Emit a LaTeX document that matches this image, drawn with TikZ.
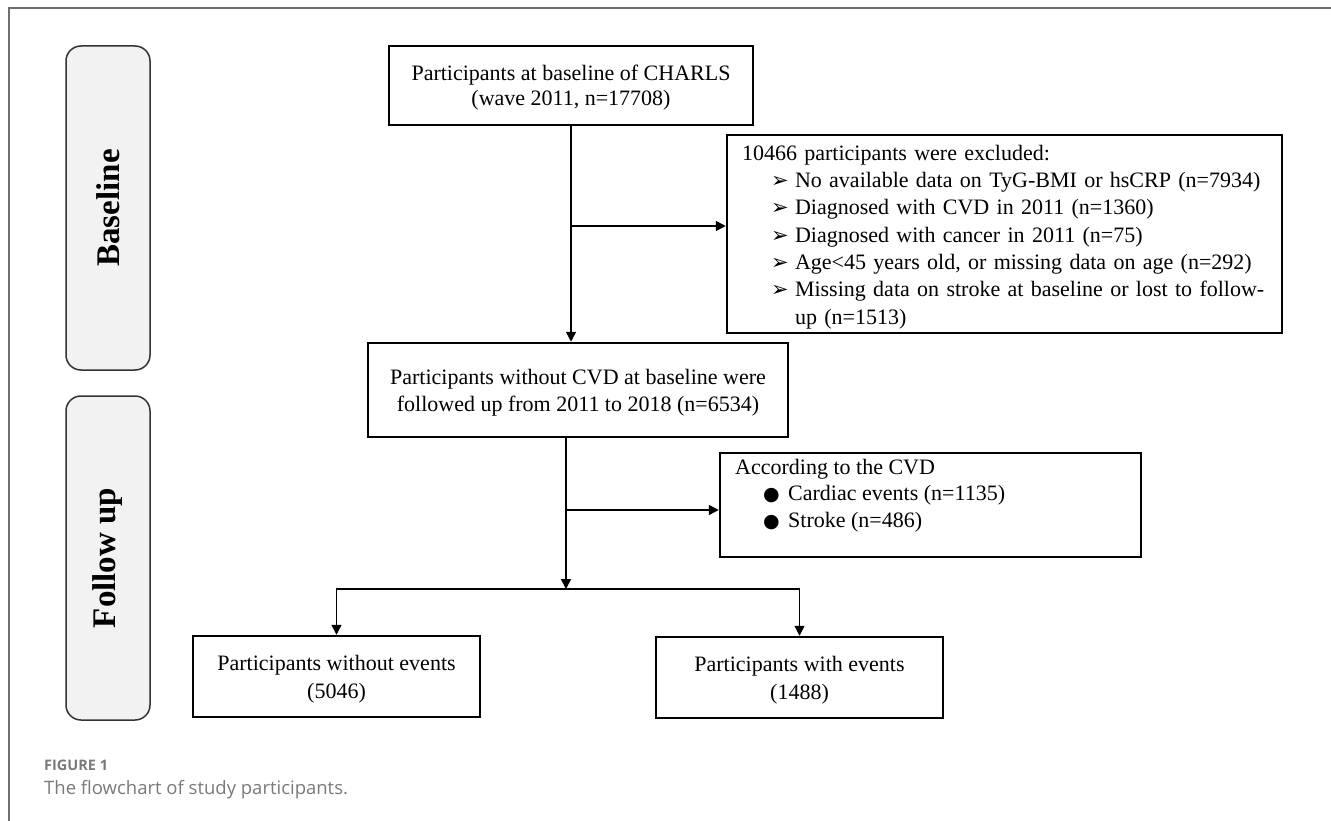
\documentclass[tikz,border=0pt]{standalone}
\usepackage{fontspec}
\setmainfont{Liberation Serif}
\newfontfamily\symfont{DejaVu Sans}
\newfontfamily\capfont{Open Sans}
\usetikzlibrary{arrows.meta}
\definecolor{framegray}{HTML}{6E6E6E}
\definecolor{capgray}{HTML}{7A7A7A}
\definecolor{phasefill}{HTML}{F2F2F2}
\newcommand\exbullet{\hspace*{29pt}\makebox[24pt][l]{\symfont\fontsize{21}{21}\selectfont ➢}}
\newcommand\cvdbullet{\hspace*{28pt}\makebox[25pt][l]{\symfont\fontsize{19}{19}\selectfont ●}}
\begin{document}
\begin{tikzpicture}[x=1pt,y=-1pt,
  boxframe/.style={draw=black,line width=2.5pt,font=\fontsize{22}{25}\selectfont,inner sep=0pt},
  box/.style={boxframe,align=center,text depth=-2pt},
  phase/.style={draw=black!80,line width=1.5pt,fill=phasefill,rounded corners=15pt,
    minimum width=324pt,minimum height=84pt,inner sep=0pt,rotate=90,
    font=\bfseries\fontsize{33}{33}\selectfont},
  conn/.style={line width=1.5pt,-{Triangle[length=10pt,width=10pt]}},
  framerule/.style={draw=framegray,line width=1.5pt}]
\useasboundingbox (0,0) rectangle (1331,821);
\fill[white] (0,0) rectangle (1331,821);
% frame
\draw[framerule] (9,821) -- (9,8) -- (1331,8);
% phase labels
\node[phase] (basephase) at (108,208) {Baseline};
\node[phase] (followphase) at (108,558) {Follow up};
% boxes
\node[box,minimum width=364pt,minimum height=79pt] (top) at (571,85.5)
  {Participants at baseline of CHARLS\\(wave 2011, n=17708)};
\node[box,minimum width=420pt,minimum height=94pt,font=\fontsize{22}{27}\selectfont] (mid) at (578,390)
  {Participants without CVD at baseline were\\followed up from 2011 to 2018 (n=6534)};
\node[boxframe,text width=525pt,inner xsep=15pt,minimum height=198pt,align=left,
  font=\fontsize{22}{27.3}\selectfont] (excl) at (1004.5,234)
  {\mbox{\rule{0pt}{21pt}10466 participants were excluded:}\\
   \mbox{\exbullet No available data on TyG-BMI or hsCRP (n=7934)}\\
   \mbox{\exbullet Diagnosed with CVD in 2011 (n=1360)}\\
   \mbox{\exbullet Diagnosed with cancer in 2011 (n=75)}\\
   \mbox{\exbullet Age<45 years old, or missing data on age (n=292)}\\
   \mbox{\exbullet Missing data on stroke at baseline or lost to follow-}\\
   \mbox{\hspace*{53pt}up (n=1513)}};
\node[boxframe,minimum width=421pt,minimum height=104pt] (cvd) at (930.5,505) {};
\node[anchor=north west,align=left,inner sep=0pt,font=\fontsize{22}{26.5}\selectfont] (cvdtext) at (735,459)
  {According to the CVD\\
   \cvdbullet Cardiac events (n=1135)\\
   \cvdbullet Stroke (n=486)};
\node[box,minimum width=287pt,minimum height=81pt,font=\fontsize{22}{28}\selectfont] (bl) at (336.5,676.5)
  {Participants without events\\(5046)};
\node[box,minimum width=287pt,minimum height=81pt,font=\fontsize{22}{28}\selectfont] (br) at (799.5,677.5)
  {Participants with events\\(1488)};
% connectors
\coordinate (b1) at (571,226);
\coordinate (b2) at (566,510);
\coordinate (j) at (566,589);
\draw[conn] (top.south) -- (top.south |- mid.north);
\draw[conn] (b1) -- (b1 -| excl.west);
\draw[conn] (mid.south -| j) -- (j);
\draw[conn] (b2) -- (b2 -| cvd.west);
\draw[conn] (j) -| (bl.north);
\draw[conn] (j) -| (br.north);
% caption
\node[anchor=base west,inner sep=0pt,text=capgray,font=\capfont\bfseries\fontsize{14.5}{14.5}\selectfont] (figlabel) at (44,770) {FIGURE 1};
\node[anchor=base west,inner sep=0pt,text=capgray,font=\capfont\fontsize{18.5}{18.5}\selectfont] (figcap) at (44,794) {The flowchart of study participants.};
\end{tikzpicture}
\end{document}
